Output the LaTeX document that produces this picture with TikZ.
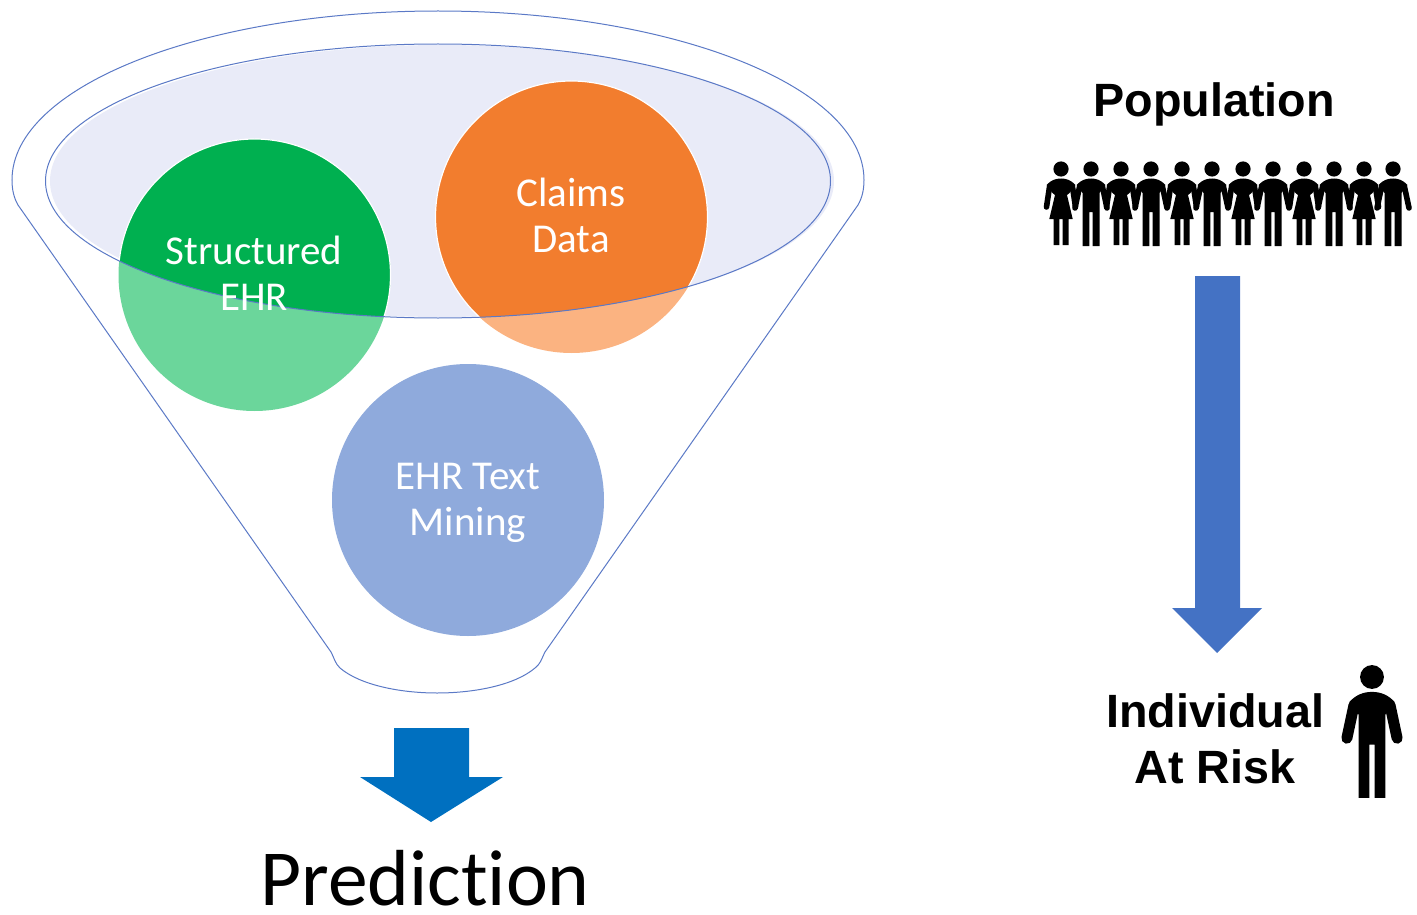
\documentclass[tikz,border=0pt]{standalone}
\usepackage{fontspec}
\setmainfont[Ligatures=NoCommon]{Carlito}
\newfontfamily\arialfont{Liberation Sans}
\definecolor{funnelline}{HTML}{5B79C6}
\definecolor{funnelfill}{HTML}{E9EBF8}
\definecolor{ehrgreen}{HTML}{00B050}
\definecolor{ehrgreenlight}{HTML}{6BD69B}
\definecolor{claimsorange}{HTML}{F27D2E}
\definecolor{claimsorangelight}{HTML}{FBB381}
\definecolor{miningblue}{HTML}{8FAADC}
\definecolor{arrowblue}{HTML}{4472C4}
\definecolor{predictblue}{HTML}{0070C0}
\newcommand{\limbwidth}{5.6}
\tikzset{
	circletext/.style={align=center,text=white,font=\fontsize{41}{46}\selectfont},
	bigtext/.style={align=center,font=\arialfont\bfseries\fontsize{46.7}{56}\selectfont},
	limb/.style={line width=\limbwidth,line cap=round},
	man/.pic={
		\fill (0,0) circle (7.6);
		\fill (-8.5,43) -- (-8.5,24) -- (-14.5,16) .. controls (-10,11) and (-5,9.5) .. (0,9.5) .. controls (5,9.5) and (10,11) .. (14.5,16) -- (8.5,24) -- (8.5,77) -- (1.7,77) -- (1.7,43) -- (-1.7,43) -- (-1.7,77) -- (-8.5,77) -- cycle;
		\draw[limb] (-11.5,18) -- (-16,39);
		\draw[limb] (11.5,18) -- (16,39);
	},
	woman/.pic={
		\fill (0,0) circle (7.6);
		\fill (-6,26) -- (-8.5,24) -- (-14.5,16) .. controls (-10,11) and (-5,9.5) .. (0,9.5) .. controls (5,9.5) and (10,11) .. (14.5,16) -- (8.5,24) -- (6,26) -- (11.7,50) -- (7.5,50) -- (7.5,76) -- (1.7,76) -- (1.7,50) -- (-1.7,50) -- (-1.7,76) -- (-7.5,76) -- (-7.5,50) -- (-11.7,50) -- cycle;
		\draw[limb] (-11.5,18) -- (-14.5,38);
		\draw[limb] (11.5,18) -- (14.5,38);
	}
}
\begin{document}
\begin{tikzpicture}[x=1pt,y=-1pt]
	\useasboundingbox (0,0) rectangle (1417,915);
	% funnel
	\draw[funnelline,line width=1] (18,205) .. controls (14,198) and (12,190) .. (12,180) arc[start angle=180,end angle=360,x radius=426,y radius=169] .. controls (864,190) and (862,198) .. (858,205) -- (545,652) .. controls (541,660) and (541,663) .. (535,668) .. controls (515,685) and (475,693) .. (437,693) .. controls (400,693) and (360,685) .. (340,668) .. controls (335,663) and (335,660) .. (331,652) -- cycle;
	\fill[funnelfill] (442,181) ellipse (392 and 136);
	\fill[ehrgreenlight] (254.5,275) circle (136);
	\fill[claimsorangelight] (571.5,217) circle (136);
	\begin{scope}
		\clip (438,181) ellipse (392.5 and 137);
		\fill[ehrgreen,draw=white,line width=1.2] (254.5,275) circle (136);
		\fill[claimsorange,draw=white,line width=1.2] (571.5,217) circle (136);
	\end{scope}
	\draw[funnelline,line width=1] (438,181) ellipse (392.5 and 137);
	\node[circle,fill=miningblue,minimum size=272,inner sep=0] (mining) at (468,500) {};
	\node[circletext] (miningtext) at (468,503) {EHR Text\\Mining};
	\node[circletext] (structured) at (254,273) {Structured\\EHR};
	\node[circletext] (claims) at (571,215) {Claims\\Data};
	% prediction arrow
	\fill[predictblue] (394,728) -- (469,728) -- (469,777) -- (503,777) -- (431,822) -- (360,777) -- (394,777) -- cycle;
	\node[font=\fontsize{79.5}{79.5}\selectfont,inner sep=0] (prediction) at (425,878) {Prediction};
	% right side
	\node[bigtext] (population) at (1214,104) {Population};
	\foreach \xcoord in {1061,1121,1182,1243,1304,1364} \pic at (\xcoord,169) {woman};
	\foreach \xcoord in {1091,1151,1212,1273,1334,1393} \pic at (\xcoord,169) {man};
	\fill[arrowblue] (1195,276) -- (1240,276) -- (1240,608) -- (1262,608) -- (1217,653) -- (1172,608) -- (1195,608) -- cycle;
	\node[bigtext] (individual) at (1215,739) {Individual\\At Risk};
	\renewcommand{\limbwidth}{11}
	\pic[scale=1.57] at (1372,677) {man};
\end{tikzpicture}
\end{document}
